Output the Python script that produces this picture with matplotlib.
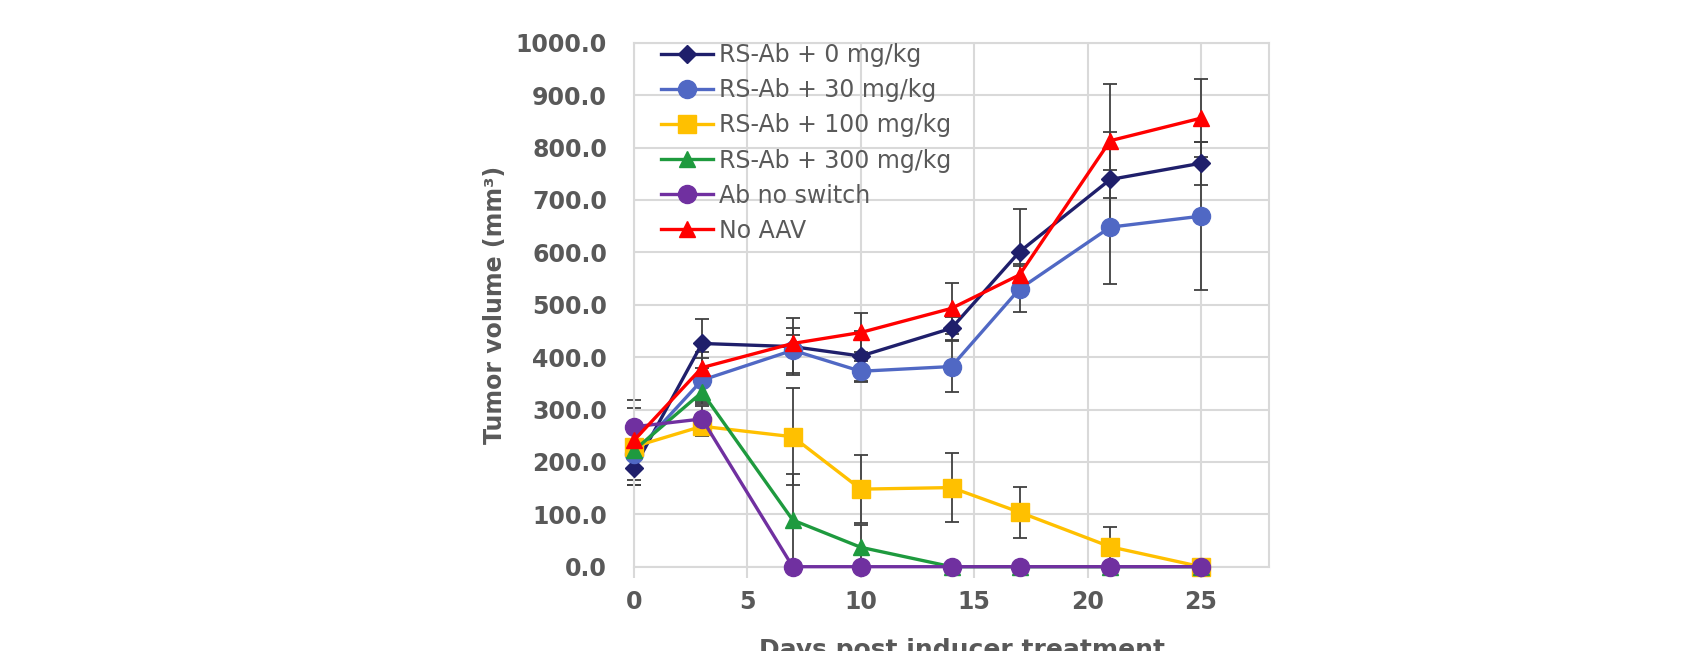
import matplotlib
matplotlib.use("Agg")
import matplotlib.pyplot as plt
import numpy as np

plt.rcParams['font.family'] = ['DejaVu Sans']

days = [0, 3, 7, 10, 14, 17, 21, 25]

labels = ["RS-Ab + 0 mg/kg", "RS-Ab + 30 mg/kg", "RS-Ab + 100 mg/kg",
          "RS-Ab + 300 mg/kg", "Ab no switch", "No AAV"]

v0 = [188, 426, 420, 402, 455, 601, 739, 770]
v30 = [215, 356, 413, 373, 382, 530, 648, 669]
v100 = [229, 268, 248, 148, 151, 104, 38, 0]
v300 = [222, 333, 89, 37, 0, 0, 0, 0]
vab = [267, 282, 0, 0, 0, 0, 0, 0]
vno = [241, 380, 426, 447, 493, 557, 813, 856]

e0 = [32, 46, 54, 47, 22, 81, 91, 41]
e30 = [50, 42, 43, 20, 49, 44, 109, 141]
e100 = [73, 18, 93, 65, 66, 49, 38, 0]
e300 = [10, 22, 88, 42, 0, 0, 0, 0]
eab = [52, 25, 0, 0, 0, 0, 0, 0]
eno = [15, 30, 16, 37, 49, 20, 109, 74]

yticks = [0, 100, 200, 300, 400, 500, 600, 700, 800, 900, 1000]
xticks = [0, 5, 10, 15, 20, 25]

series = [
    (v0, e0, '#1F1F6B', 'D', 9.5),
    (v30, e30, '#5068C4', 'o', 13),
    (v100, e100, '#FFC000', 's', 13),
    (v300, e300, '#1E9A3E', '^', 12),
    (vab, eab, '#7030A0', 'o', 13),
    (vno, eno, '#FF0000', '^', 12),
]

TXT = '#595959'
GRID = '#D9D9D9'

fig = plt.figure(figsize=(16.95, 6.51), dpi=100)
ax = fig.add_axes([634/1695, 1-566.7/651, (1269-634)/1695, (566.7-42.7)/651])

for i, (vals, errs, col, mk, ms) in enumerate(series):
    errs = np.array(errs, dtype=float)
    vals_a = np.array(vals, dtype=float)
    m = errs > 0
    ax.errorbar(np.array(days)[m], vals_a[m], yerr=errs[m], fmt='none',
                ecolor='#404040', elinewidth=1.3, capsize=5, capthick=1.3,
                zorder=2.5, clip_on=False)
    ax.plot(days, vals, color=col, marker=mk, markersize=ms, linewidth=2.4,
            label=labels[i], zorder=3 + i * 0.1, clip_on=False)

ax.set_xlim(0, 28)
ax.set_ylim(0, 1000)
ax.set_xticks(xticks)
ax.set_yticks(yticks)
ax.set_yticklabels([f"{t:.1f}" for t in yticks])
ax.grid(True, color=GRID, linewidth=1.5, zorder=0)
ax.set_axisbelow(True)
for s in ax.spines.values():
    s.set_color(GRID)
    s.set_linewidth(1.5)
ax.tick_params(axis='x', direction='out', length=8, width=1.5, color=GRID,
               labelsize=17, labelcolor=TXT, pad=9)
ax.tick_params(axis='y', length=0, labelsize=17, labelcolor=TXT, pad=19.4)
for lab in ax.get_xticklabels() + ax.get_yticklabels():
    lab.set_fontweight('bold')

leg = ax.legend(loc='upper left', bbox_to_anchor=(0.035, 1.008), frameon=False,
                fontsize=17, handlelength=2.2, handletextpad=0.24,
                labelspacing=0.47, borderpad=0.2, borderaxespad=0)
for t in leg.get_texts():
    t.set_color(TXT)

fig.text(495/1695, 1-305/651, "Tumor volume (mm³)", rotation=90, ha='center',
         va='center', fontsize=17, fontweight='bold', color=TXT)
fig.text(962/1695, 1-638/651, "Days post inducer treatment", ha='center',
         va='top', fontsize=18, fontweight='bold', color=TXT)

fig.savefig('out.png', dpi=100)
